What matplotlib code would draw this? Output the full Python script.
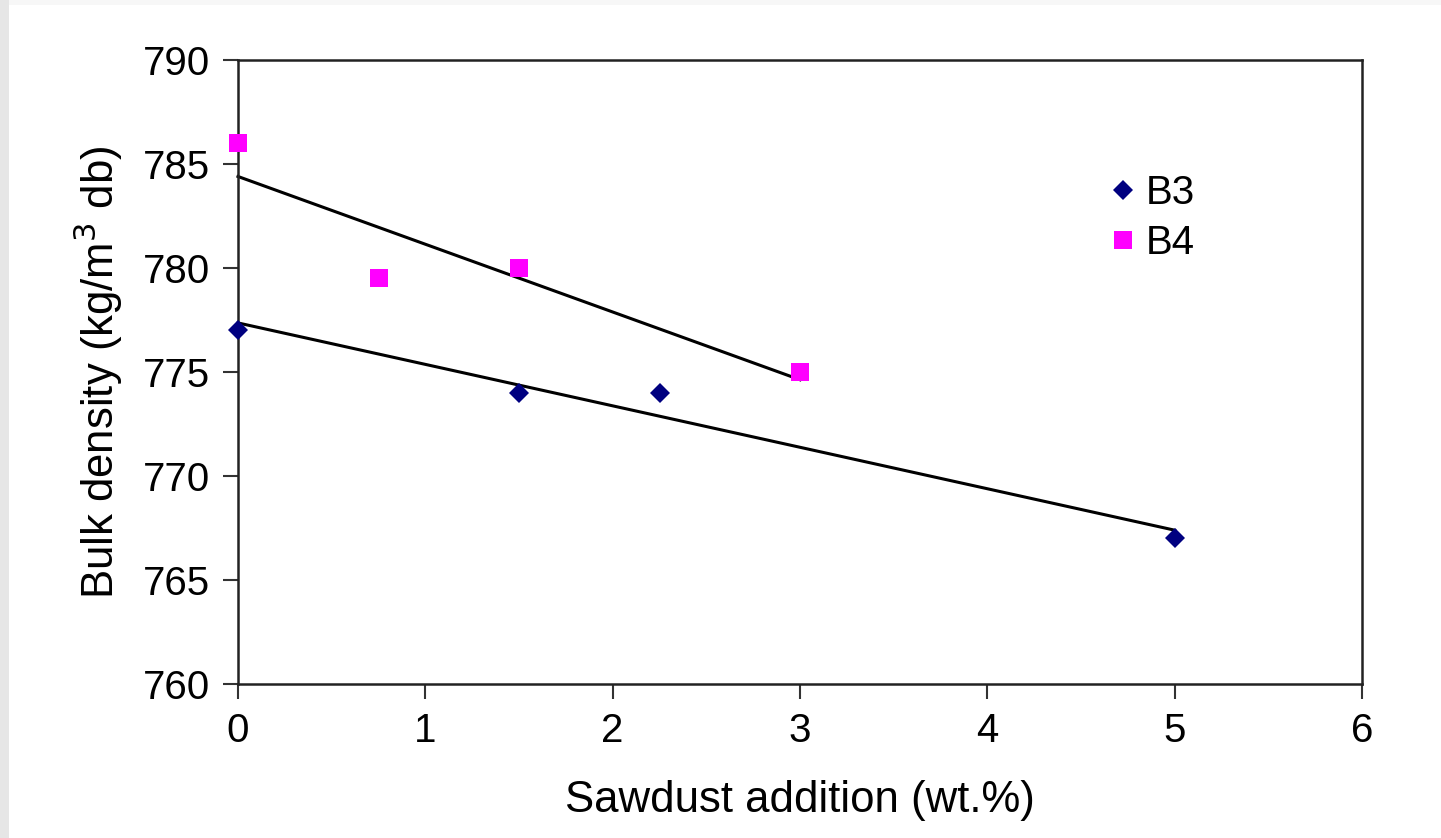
import matplotlib.pyplot as plt
import matplotlib.patches as patches
import numpy as np

# data
b3_x = [0, 1.5, 2.25, 5]
b3_y = [777, 774, 774, 767]
b4_x = [0, 0.75, 1.5, 3]
b4_y = [786, 779.5, 780, 775]

x_ticks = [0, 1, 2, 3, 4, 5, 6]
y_ticks = [760, 765, 770, 775, 780, 785, 790]

plt.rcParams['font.family'] = ['Liberation Sans', 'DejaVu Sans']

fig = plt.figure(figsize=(14.41, 8.38), dpi=100)
fig.patch.set_facecolor('#e6e6e6')
# white page with thin grey strips at the left and top edges
fig.patches.append(patches.Rectangle((9 / 1441, 0), 1, 1 - 5 / 838,
                                     transform=fig.transFigure, facecolor='white',
                                     edgecolor='none', zorder=-1))
fig.patches.append(patches.Rectangle((9 / 1441, 1 - 5 / 838), 1, 5 / 838,
                                     transform=fig.transFigure, facecolor='#f7f7f7',
                                     edgecolor='none', zorder=-1))

ax = fig.add_axes([238 / 1441, 1 - 684 / 838, 1124 / 1441, 624 / 838])
ax.set_facecolor('white')

# linear trend lines over each series' range
for xs, ys in [(b3_x, b3_y), (b4_x, b4_y)]:
    z = np.polyfit(xs, ys, 1)
    line = np.poly1d(z)
    xx = np.array([min(xs), max(xs)])
    ax.plot(xx, line(xx), color='black', lw=2.2, zorder=2, clip_on=False)

ax.plot(b3_x, b3_y, 'D', color='#000080', ms=10, mew=0, label='B3', zorder=3, clip_on=False)
ax.plot(b4_x, b4_y, 's', color='#ff00ff', ms=13, mew=0, label='B4', zorder=3, clip_on=False)

ax.set_xlim(0, 6)
ax.set_ylim(760, 790)
ax.set_xticks(x_ticks)
ax.set_yticks(y_ticks)
ax.tick_params(direction='out', length=11, width=1.5, labelsize=29, color='#333333', pad=9)

for s in ax.spines.values():
    s.set_linewidth(1.8)
    s.set_color('#222222')

ax.set_xlabel('Sawdust addition (wt.%)', fontsize=31.5, labelpad=22)
ax.set_ylabel('Bulk density (kg/m$^3$ db)', fontsize=31.5, labelpad=13)

ax.legend(loc='center left', bbox_to_anchor=(1091 / 1441, 1 - 218 / 838),
          bbox_transform=fig.transFigure, frameon=False, fontsize=29,
          handlelength=0.6, handletextpad=0.25, labelspacing=0.3, borderpad=0)

fig.savefig('out.png', dpi=100, facecolor=fig.get_facecolor())
